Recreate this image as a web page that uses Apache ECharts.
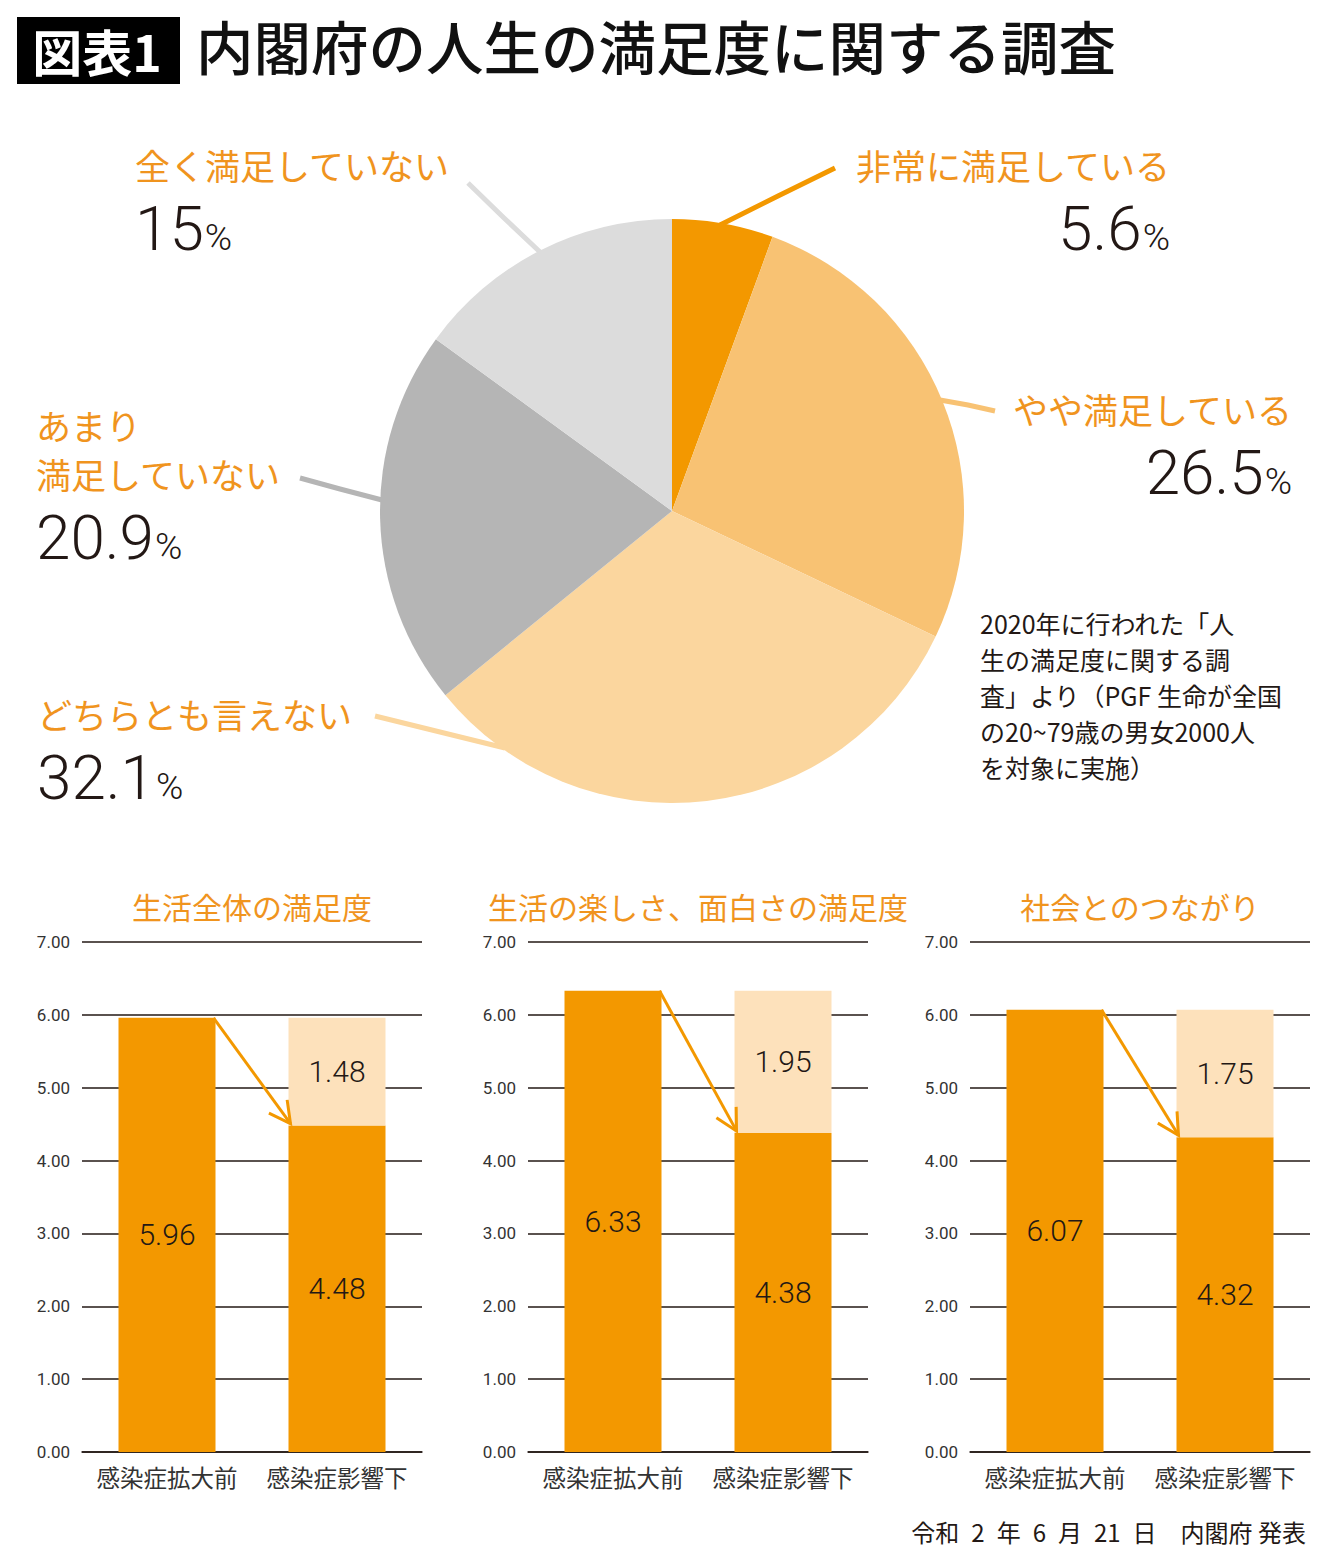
<!DOCTYPE html>
<html><head><meta charset="utf-8">
<script src="https://cdn.jsdelivr.net/npm/echarts@6/dist/echarts.min.js"></script>
<style>html,body{margin:0;padding:0;background:#fff}#c{width:1340px;height:1553px}</style>
</head><body><div id="c"></div>
<script>
// ---- data ----
const pieNames = ['非常に満足している', 'やや満足している', 'どちらとも言えない', 'あまり満足していない', '全く満足していない'];
const pieValues = [5.6, 26.5, 32.1, 20.9, 15];
const panelTitles = ['生活全体の満足度', '生活の楽しさ、面白さの満足度', '社会とのつながり'];
const barCategories = ['感染症拡大前', '感染症影響下'];
const beforeValues = [5.96, 6.33, 6.07];
const afterValues = [4.48, 4.38, 4.32];
const dropValues = [1.48, 1.95, 1.75];
const mainTitle = '内閣府の人生の満足度に関する調査';
const figLabel = '図表1';
const noteText = '2020年に行われた「人\n生の満足度に関する調\n査」より（PGF 生命が全国\nの20~79歳の男女2000人\nを対象に実施）';
const footerText = '令和\u20022\u2002年\u20026\u2002月\u200221\u2002日　内閣府 発表';

// ---- styles ----
const JP = '"Noto Sans CJK JP", sans-serif';
const NUM = 'Roboto, "Noto Sans CJK JP", sans-serif';
const ORANGE = '#f39800';
const TXT_OR = '#f0941e';
const INK = '#231815';
const pieColors = ['#f39800', '#f8c273', '#fbd69e', '#b5b5b5', '#dcdcdc'];
const LIGHT = '#fde1bb';
const gridLefts = [82, 528, 970];
const GW = 340, GT = 942, GH = 510, BW = 97;

const chart = echarts.init(document.getElementById('c'), null, {renderer: 'svg'});

const labelPos = [
  {x: 1170, y: 140, align: 'right', pts: [[835, 168], [778, 196], [720, 225]]},
  {x: 1292, y: 384, align: 'right', pts: [[995, 411], [968, 405], [940, 400]]},
  {x: 37, y: 689, align: 'left', pts: [[375, 716], [440, 732], [505, 748]]},
  {x: 36, y: 400, align: 'left', pts: [[300, 478], [340, 489], [382, 500]]},
  {x: 135, y: 140, align: 'left', pts: [[468, 183], [504, 218], [540, 252]]}
];

const grids = [], xAxes = [], yAxes = [], series = [];
gridLefts.forEach((l, i) => {
  grids.push({left: l, top: GT, width: GW, height: GH});
  xAxes.push({
    type: 'category', gridIndex: i, data: barCategories,
    axisLine: {show: true, lineStyle: {color: INK, width: 1.5}},
    axisTick: {show: false},
    axisLabel: {interval: 0, hideOverlap: false, fontSize: 23.5, color: '#333', margin: 13, fontFamily: JP}
  });
  yAxes.push({
    type: 'value', gridIndex: i, min: 0, max: 7, interval: 1,
    axisLine: {show: false}, axisTick: {show: false},
    splitLine: {show: true, lineStyle: {color: INK, width: 1.5}},
    axisLabel: {formatter: v => v.toFixed(2), fontSize: 17, color: '#333', margin: 12, fontFamily: NUM}
  });
  const lbl = {show: true, position: 'inside', formatter: p => Number(p.value).toFixed(2),
    fontSize: 30, color: INK, fontFamily: NUM, fontWeight: 300};
  series.push({
    type: 'bar', xAxisIndex: i, yAxisIndex: i, stack: 's' + i, barWidth: BW,
    data: [beforeValues[i], afterValues[i]], itemStyle: {color: ORANGE}, label: lbl, silent: true
  });
  series.push({
    type: 'bar', xAxisIndex: i, yAxisIndex: i, stack: 's' + i, barWidth: BW,
    data: ['-', dropValues[i]], itemStyle: {color: LIGHT}, label: lbl, silent: true
  });
});

series.push({
  type: 'pie', center: [672, 511], radius: 292, startAngle: 90, clockwise: true, silent: true,
  data: pieNames.map((n, i) => ({
    name: n, value: pieValues[i], itemStyle: {color: pieColors[i]},
    labelLine: {lineStyle: {color: pieColors[i]}}
  })),
  label: {
    show: true,
    formatter: p => {
      const nm = p.dataIndex === 3 ? '{n|あまり}\n{n|満足していない}' : '{n|' + p.name + '}';
      return nm + '\n{v|' + p.value + '}{p|%}';
    },
    rich: {
      n: {fontSize: 35, color: TXT_OR, lineHeight: 49, fontFamily: JP},
      v: {fontSize: 62, color: INK, lineHeight: 79, fontFamily: NUM, fontWeight: 300},
      p: {fontSize: 37, color: INK, lineHeight: 58, fontFamily: NUM, fontWeight: 300, padding: [17, 0, 0, 1]}
    }
  },
  labelLine: {show: true, lineStyle: {width: 5}},
  labelLayout: p => {
    const L = labelPos[p.dataIndex];
    return {x: L.x, y: L.y, align: L.align, verticalAlign: 'top', labelLinePoints: L.pts};
  }
});

const baseGraphic = [
  {id: 'hbox', type: 'rect', shape: {x: 17, y: 17, width: 163, height: 67}, style: {fill: '#000'}},
  {id: 'htxt', type: 'text', x: 97, y: 50, style: {text: figLabel, fill: '#fff', font: 'bold 50px ' + JP, textAlign: 'center', textVerticalAlign: 'middle'}},
  {id: 'mtitle', type: 'text', x: 196, y: 45, style: {text: mainTitle, fill: '#111', font: '500 57.5px ' + JP, textAlign: 'left', textVerticalAlign: 'middle'}},
  {id: 'note', type: 'text', x: 980, y: 605, style: {text: noteText, fill: INK, font: '25px ' + JP, lineHeight: 36, textAlign: 'left', textVerticalAlign: 'top'}},
  {id: 'foot', type: 'text', x: 1306, y: 1531, style: {text: footerText, fill: INK, font: '24px ' + JP, textAlign: 'right', textVerticalAlign: 'middle'}}
];
panelTitles.forEach((t, i) => {
  baseGraphic.push({id: 'pt' + i, type: 'text', x: gridLefts[i] + GW / 2, y: 906,
    style: {text: t, fill: TXT_OR, font: '30px ' + JP, textAlign: 'center', textVerticalAlign: 'middle'}});
});

chart.setOption({
  animation: false,
  grid: grids, xAxis: xAxes, yAxis: yAxes, series: series,
  graphic: baseGraphic
});

// arrows from before-bar top-right to after-bar top-left
const arrows = [];
gridLefts.forEach((l, i) => {
  const p0 = chart.convertToPixel({gridIndex: i}, [barCategories[0], beforeValues[i]]);
  const p1 = chart.convertToPixel({gridIndex: i}, [barCategories[1], afterValues[i]]);
  const s = [p0[0] + BW / 2 - 2, p0[1]];
  const e = [p1[0] - BW / 2 + 2, p1[1] - 2];
  const dx = e[0] - s[0], dy = e[1] - s[1], len = Math.hypot(dx, dy);
  const ux = -dx / len, uy = -dy / len, a = 28 * Math.PI / 180, al = 24;
  const arm = sg => [e[0] + al * (ux * Math.cos(sg * a) - uy * Math.sin(sg * a)), e[1] + al * (ux * Math.sin(sg * a) + uy * Math.cos(sg * a))];
  arrows.push({id: 'al' + i, type: 'line', shape: {x1: s[0], y1: s[1], x2: e[0], y2: e[1]}, style: {stroke: ORANGE, lineWidth: 3}, z: 10});
  arrows.push({id: 'ah' + i, type: 'polyline', shape: {points: [arm(1), e, arm(-1)]}, style: {stroke: ORANGE, lineWidth: 3, fill: null}, z: 10});
});
chart.setOption({graphic: baseGraphic.concat(arrows)});
</script></body></html>
